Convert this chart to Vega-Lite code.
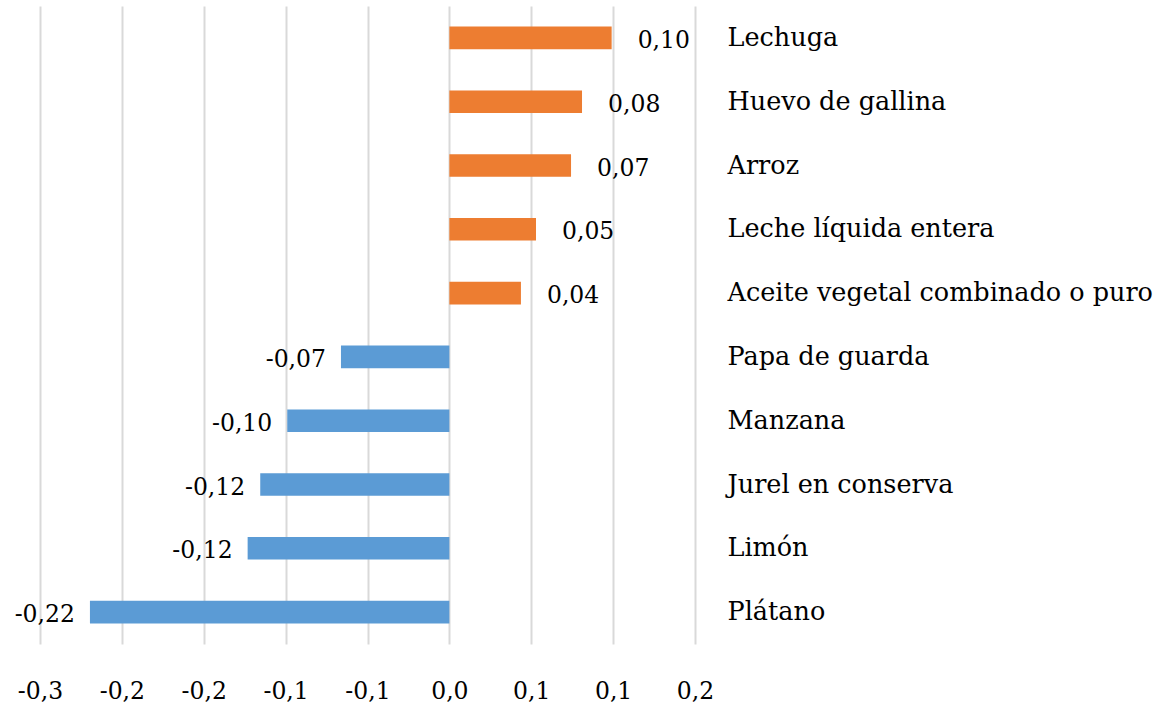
{
  "$schema": "https://vega.github.io/schema/vega-lite/v6.json",
  "autosize": {"type": "none"},
  "width": 655,
  "height": 638,
  "padding": {"left": 40, "top": 6, "right": 464, "bottom": 64},
  "background": "white",
  "config": {
    "locale": {"number": {"decimal": ",", "thousands": ".", "grouping": [3], "currency": ["", " €"], "minus": "-"}},
    "view": {"stroke": null},
    "font": "DejaVu Serif"
  },
  "data": {
    "values": [
      {"alimento": "Lechuga", "valor": 0.0991},
      {"alimento": "Huevo de gallina", "valor": 0.0810},
      {"alimento": "Arroz", "valor": 0.0743},
      {"alimento": "Leche líquida entera", "valor": 0.0529},
      {"alimento": "Aceite vegetal combinado o puro", "valor": 0.0437},
      {"alimento": "Papa de guarda", "valor": -0.0662},
      {"alimento": "Manzana", "valor": -0.0990},
      {"alimento": "Jurel en conserva", "valor": -0.1155},
      {"alimento": "Limón", "valor": -0.1232},
      {"alimento": "Plátano", "valor": -0.2195}
    ]
  },
  "encoding": {
    "y": {
      "field": "alimento",
      "type": "nominal",
      "sort": null,
      "title": null,
      "scale": {"paddingInner": 0.645, "paddingOuter": 0.3225},
      "axis": {
        "orient": "right",
        "domain": false,
        "ticks": false,
        "grid": false,
        "labelAlign": "left",
        "labelBaseline": "middle",
        "labelPadding": 32,
        "labelFont": "DejaVu Serif",
        "labelFontSize": 25.5,
        "labelColor": "#000000",
        "labelLimit": 600
      }
    },
    "x": {
      "field": "valor",
      "type": "quantitative",
      "title": null,
      "scale": {"domain": [-0.25, 0.15], "nice": false, "zero": true},
      "axis": {
        "values": [-0.25, -0.2, -0.15, -0.1, -0.05, 0, 0.05, 0.1, 0.15],
        "labelExpr": "replace((datum.value < -1e-9 ? '-' : '') + format(round(abs(datum.value) * 10 + 1e-9) / 10, '.1f'), '.', ',')",
        "domain": false,
        "ticks": false,
        "grid": true,
        "gridColor": "#d9d9d9",
        "gridWidth": 2,
        "labelPadding": 35,
        "labelFont": "DejaVu Serif",
        "labelFontSize": 23.5,
        "labelColor": "#000000",
        "labelFlush": false,
        "labelOverlap": false
      }
    }
  },
  "layer": [
    {
      "mark": {"type": "bar"},
      "encoding": {
        "color": {
          "condition": {"test": "datum.valor > 0", "value": "#ED7D31"},
          "value": "#5B9BD5"
        }
      }
    },
    {
      "transform": [{"filter": "datum.valor > 0"}],
      "mark": {"type": "text", "align": "left", "baseline": "middle", "dx": 26, "dy": 3, "fontSize": 23.5, "font": "DejaVu Serif", "color": "#000000"},
      "encoding": {"text": {"field": "valor", "type": "quantitative", "format": ".2f"}}
    },
    {
      "transform": [{"filter": "datum.valor < 0"}],
      "mark": {"type": "text", "align": "right", "baseline": "middle", "dx": -15, "dy": 3, "fontSize": 23.5, "font": "DejaVu Serif", "color": "#000000"},
      "encoding": {"text": {"field": "valor", "type": "quantitative", "format": ".2f"}}
    }
  ]
}
